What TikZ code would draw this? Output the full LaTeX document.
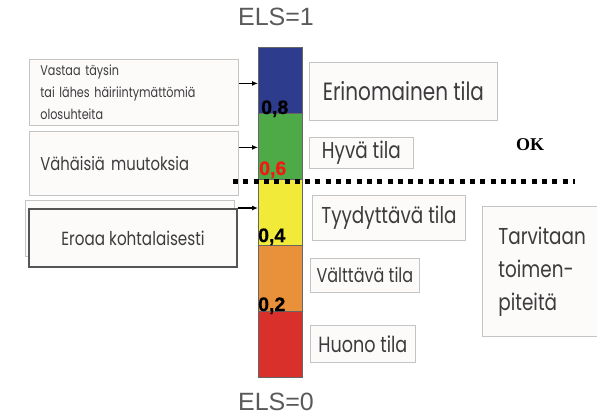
\documentclass[tikz,border=0pt]{standalone}
\usepackage{fontspec}
\setmainfont{Liberation Sans}
\newfontfamily\gothic[FakeStretch=0.8]{Poppins}
\newfontfamily\serifbold{Liberation Serif}
\newfontfamily\numfont[FakeBold=0.6]{Liberation Sans Bold}
\usetikzlibrary{arrows.meta}

\definecolor{txtgray}{HTML}{3C3C3C}
\definecolor{elsgray}{HTML}{5A5A5A}
\definecolor{boxline}{HTML}{C4C4C4}
\definecolor{boxfill}{HTML}{FDFAFA}
\definecolor{darkline}{HTML}{555555}
\definecolor{cblue}{HTML}{2E3C8E}
\definecolor{cgreen}{HTML}{4DAA46}
\definecolor{cyellow}{HTML}{F1EA38}
\definecolor{corange}{HTML}{E8903A}
\definecolor{cred}{HTML}{DA302B}
\definecolor{cnum}{HTML}{F21A10}

\tikzset{
  infobox/.style={draw=boxline, line width=0.8pt, fill=boxfill, rectangle,
    anchor=north west, text=txtgray, font=\gothic, inner sep=0pt},
  seg/.style={rectangle, anchor=north west, minimum width=44, minimum height=66,
    inner sep=0pt, draw=black!60, line width=0.4pt},
  level/.style={anchor=base west, inner sep=0pt, font=\numfont\fontsize{19.5}{19.5}\selectfont},
  arr/.style={-{Latex[length=6pt,width=5pt]}, line width=1.1pt, black},
  boundary/.style={line width=5pt, dash pattern=on 5pt off 5.3pt, black},
  els/.style={text=elsgray, font=\fontsize{25}{25}\selectfont, inner sep=0pt}
}

\begin{document}
\begin{tikzpicture}[x=1pt, y=-1pt]
\useasboundingbox[fill=white] (0,0) rectangle (597,416);

% colour scale
\node[seg, fill=cblue]   (s1) at (258,47) {};
\node[seg, fill=cgreen]  (s2) at (258,113) {};
\node[seg, fill=cyellow] (s3) at (258,179) {};
\node[seg, fill=corange] (s4) at (258,245) {};
\node[seg, fill=cred]    (s5) at (258,311) {};

% scale end labels
\node[els] (top) at (276,17) {ELS=1};
\node[els] (bottom) at (276,402) {ELS=0};

% left descriptions
\node[infobox, minimum width=209, minimum height=66, text width=187,
  align=left, inner xsep=11, font=\gothic\fontsize{14}{22}\selectfont]
  (d1) at (29,59) {Vastaa täysin\\tai lähes häiriintymättömiä\\olosuhteita};
\node[infobox, minimum width=209, minimum height=64, text width=187,
  align=left, inner xsep=11, font=\gothic\fontsize{18.5}{22}\selectfont]
  (d2) at (29,131) {Vähäisiä muutoksia};
\node[infobox, minimum width=209, minimum height=56] (d3shadow) at (25,200) {};
\node[infobox, draw=darkline, line width=2pt, minimum width=208, minimum height=58,
  font=\gothic\fontsize{19}{22}\selectfont]
  (d3) at (28,208) {Eroaa kohtalaisesti};

% arrows into the scale
\draw[arr] ([yshift=9pt]d1.east) -- ([yshift=9pt]d1.east -| s1.west);
\draw[arr] ([yshift=16pt]d2.east) -- ([yshift=16pt]d2.east -| s2.west);
\draw[arr] (d3.north east) -- (d3.north east -| s3.west);

% level values
\node[level] (v8) at (261,114) {0,8};
\node[level, text=cnum] (v6) at (259,175) {0,6};
\node[level] (v4) at (258,242) {0,4};
\node[level] (v2) at (258,311) {0,2};

% state names
\node[infobox, minimum width=188, minimum height=58, font=\gothic\fontsize{25}{25}\selectfont]
  (r1) at (309,62) {Erinomainen tila};
\node[infobox, minimum width=104, minimum height=31, font=\gothic\fontsize{23}{23}\selectfont]
  (r2) at (309,137) {Hyvä tila};
\node[infobox, minimum width=153, minimum height=45, font=\gothic\fontsize{23}{23}\selectfont]
  (r3) at (312,195) {Tyydyttävä tila};
\node[infobox, minimum width=109, minimum height=34, font=\gothic\fontsize{20}{20}\selectfont]
  (r4) at (310,258) {Välttävä tila};
\node[infobox, minimum width=105, minimum height=37, font=\gothic\fontsize{22}{22}\selectfont]
  (r5) at (310,325) {Huono tila};
\node[infobox, minimum width=130, minimum height=130, text width=100, align=left,
  inner xsep=16, font=\gothic\fontsize{23}{33}\selectfont]
  (act) at (482,206) {Tarvitaan\\toimen-\\piteitä};

% acceptable limit
\node[font=\serifbold\bfseries\fontsize{18}{18}\selectfont, inner sep=0pt] (ok) at (530,145) {OK};
\coordinate (lineL) at (233,181);
\coordinate (lineR) at (575,181);
\draw[boundary] (lineL) -- (lineR);
\end{tikzpicture}
\end{document}
